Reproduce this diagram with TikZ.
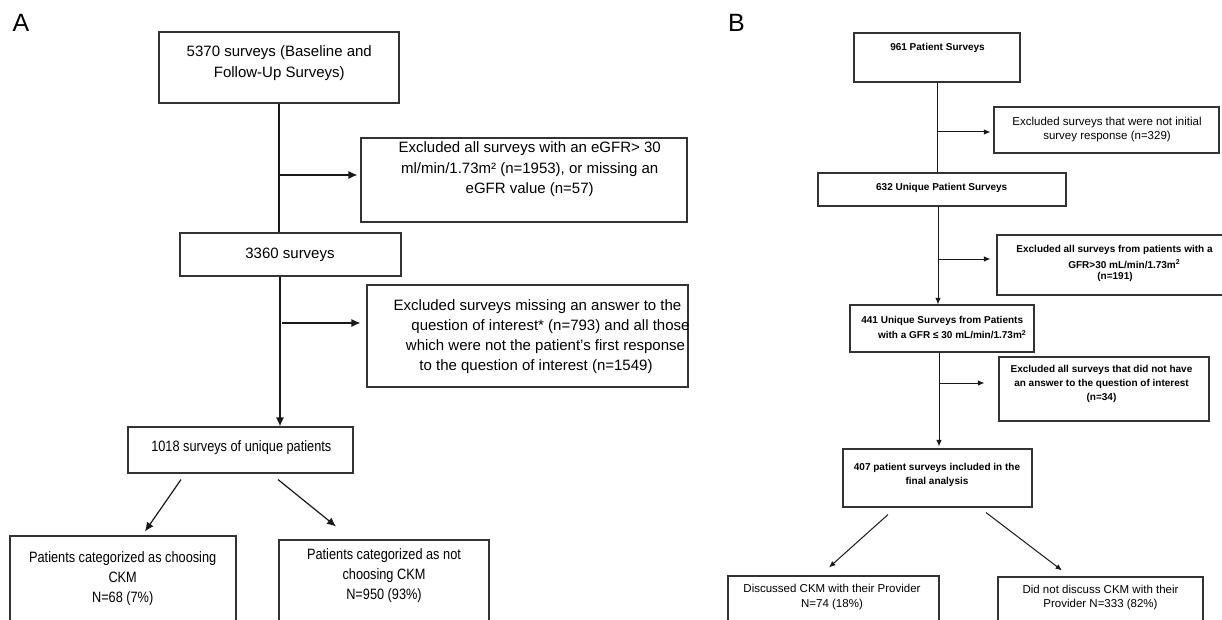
\documentclass[tikz,border=0pt]{standalone}
\usepackage{fontspec}
\setmainfont{Liberation Sans}
\newfontfamily\narrowA[FakeStretch=0.85]{Liberation Sans}
\usetikzlibrary{arrows.meta}
\begin{document}
\begin{tikzpicture}[x=1pt,y=-1pt,
  box/.style={draw=black!80, line width=1.1pt, inner sep=0pt},
  ta/.style={font=\fontsize{15}{20.5}\selectfont, align=center, inner sep=0pt},
  tan/.style={font=\fontsize{15}{20}\selectfont\narrowA, align=center, inner sep=0pt},
  tb/.style={font=\fontsize{11.5}{14.5}\selectfont, align=center, inner sep=0pt},
  tbb/.style={font=\fontsize{10}{13.8}\selectfont\bfseries, align=center, inner sep=0pt},
  lbl/.style={font=\fontsize{25}{25}\selectfont, inner sep=0pt},
  lnA/.style={draw=black!90, line width=1.2pt},
  arA/.style={lnA, -{Latex[length=9pt,width=8pt]}},
  lnB/.style={draw=black!90, line width=1pt},
  arB/.style={lnB, -{Latex[length=6.5pt,width=5.5pt]}}]
\useasboundingbox (0,0) rectangle (1222,620);
\clip (0,0) rectangle (1222,620);
\fill[white] (0,0) rectangle (1222,620);

% ---------------- Panel A ----------------
\node[lbl] (labA) at (21,22.5) {A};

\node[box, minimum width=240pt, minimum height=71pt] (a1) at (279,67.5) {};
\node[ta] (a1t) at (279.3,63) {5370 surveys (Baseline and\\Follow-Up Surveys)};

\node[box, minimum width=326pt, minimum height=84pt] (ae1) at (524,180) {};
\node[ta] (ae1t) at (529.7,169.5) {Excluded all surveys with an eGFR> 30\\ml/min/1.73m² (n=1953), or missing an\\eGFR value (n=57)};

\node[box, minimum width=221pt, minimum height=43pt] (a2) at (290.5,254.5) {};
\node[ta] (a2t) at (290,255) {3360 surveys};

\node[box, minimum width=321pt, minimum height=102pt] (ae2) at (527.5,336) {};
\node[ta] (ae2l1) at (537.5,306.5) {Excluded surveys missing an answer to the};
\node[ta] (ae2l2) at (550.5,326.7) {question of interest* (n=793) and all those};
\node[ta] (ae2l3) at (545.5,346.7) {which were not the patient’s first response};
\node[ta] (ae2l4) at (536,367) {to the question of interest (n=1549)};

\node[box, minimum width=225pt, minimum height=46pt] (a3) at (240.5,450) {};
\node[tan] (a3t) at (241.3,448) {1018 surveys of unique patients};

\node[box, minimum width=226pt, minimum height=104pt] (ac1) at (123,588) {};
\node[tan] (ac1t) at (122.7,578.3) {Patients categorized as choosing\\CKM\\N=68 (7\%)};

\node[box, minimum width=210pt, minimum height=100pt] (ac2) at (384,590) {};
\node[tan] (ac2t) at (384,575.3) {Patients categorized as not\\choosing CKM\\N=950 (93\%)};

% connectors A
\draw[lnA] (a1.south) -- (a1.south |- a2.north);
\coordinate (jA1) at (278.5,175);
\draw[arA] (jA1) -- ([xshift=-3pt]ae1.west |- jA1);
\coordinate (sA2) at (280,0);
\draw[arA] (a2.south -| sA2) -- (a3.north -| sA2);
\coordinate (jA2) at (282,323);
\draw[arA] (jA2) -- ([xshift=-6pt]ae2.west |- jA2);
\draw[arA] ([shift={(-59.5,6)}]a3.south) -- ([shift={(22,-4)}]ac1.north);
\draw[arA] ([shift={(37.5,6)}]a3.south) -- ([shift={(-48,-13)}]ac2.north);

% ---------------- Panel B ----------------
\node[lbl] (labB) at (736.5,22.5) {B};

\node[box, minimum width=166pt, minimum height=49pt] (b1) at (937,57.5) {};
\node[tbb] (b1t) at (937.5,48.3) {961 Patient Surveys};

\node[box, minimum width=225pt, minimum height=46pt] (be1) at (1106.5,130) {};
\node[tb] (be1t) at (1107,129.3) {Excluded surveys that were not initial\\survey response (n=329)};

\node[box, minimum width=248pt, minimum height=33pt] (b2) at (942,189.5) {};
\node[tbb] (b2t) at (941.7,187.7) {632 Unique Patient Surveys};

\node[box, minimum width=243pt, minimum height=60pt] (be2) at (1118.5,265) {};
\node[tbb] (be2l1) at (1114.5,250) {Excluded all surveys from patients with a};
\node[tbb] (be2l2) at (1124.3,264) {GFR>30 mL/min/1.73m\textsuperscript{2}};
\node[tbb] (be2l3) at (1115,277.3) {(n=191)};

\node[box, minimum width=184pt, minimum height=47pt] (b3) at (942,328.5) {};
\node[tbb] (b3l1) at (942.2,320.7) {441 Unique Surveys from Patients};
\node[tbb] (b3l2) at (952.2,334.7) {with a GFR ≤ 30 mL/min/1.73m\textsuperscript{2}};

\node[box, minimum width=210pt, minimum height=64pt] (be3) at (1104,389) {};
\node[tbb] (be3t) at (1101.5,384) {Excluded all surveys that did not have\\an answer to the question of interest\\(n=34)};

\node[box, minimum width=189pt, minimum height=58pt] (b4) at (937.5,478) {};
\node[tbb] (b4t) at (937,474.7) {407 patient surveys included in the\\final analysis};

\node[box, minimum width=211pt, minimum height=64pt] (bc1) at (833.5,608) {};
\node[tb] (bc1t) at (832,597) {Discussed CKM with their Provider\\N=74 (18\%)};

\node[box, minimum width=205pt, minimum height=63pt] (bc2) at (1100.5,608.5) {};
\node[tb] (bc2t) at (1100.5,597.5) {Did not discuss CKM with their\\Provider N=333 (82\%)};

% connectors B
\draw[lnB] (b1.south) -- (b1.south |- b2.north);
\coordinate (jB1) at (937,132);
\draw[arB] (jB1) -- ([xshift=-3pt]be1.west |- jB1);
\coordinate (sB2) at (938,0);
\draw[arB] (b2.south -| sB2) -- (b3.north -| sB2);
\coordinate (jB2) at (938,259);
\draw[arB] (jB2) -- ([xshift=-6pt]be2.west |- jB2);
\coordinate (sB3) at (939,0);
\draw[arB, shorten >=2pt] (b3.south -| sB3) -- (b4.north -| sB3);
\coordinate (jB3) at (939,383);
\draw[arB] (jB3) -- ([xshift=-14pt]be3.west |- jB3);
\draw[arB] ([shift={(-49.5,7)}]b4.south) -- ([shift={(-4.5,-8)}]bc1.north);
\draw[arB] ([shift={(48.5,5)}]b4.south) -- ([shift={(-38.5,-6)}]bc2.north);
\end{tikzpicture}
\end{document}
